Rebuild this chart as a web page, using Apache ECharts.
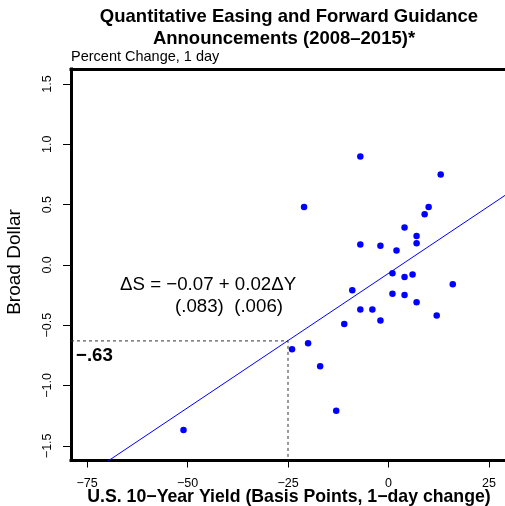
<!DOCTYPE html>
<html>
<head>
<meta charset="utf-8">
<script src="https://cdn.jsdelivr.net/npm/echarts@6/dist/echarts.min.js"></script>
<style>
  html, body { margin: 0; padding: 0; background: #fff; }
  #chart { width: 505px; height: 506px; }
</style>
</head>
<body>
<div id="chart"></div>
<script>
// ---- Data ----
var yieldChange = [-7, 13, -21, 10, 9, 4, 7, 7, -7, -2, 2, 1, 4, 6, 16, -9, 1, 4, 7, -7, -4, 12, -2, -11, -24, -20, -17, -13, -51];
var dollarChange = [0.90, 0.75, 0.48, 0.48, 0.42, 0.31, 0.24, 0.18, 0.17, 0.16, 0.12, -0.07, -0.10, -0.08, -0.16, -0.21, -0.24, -0.25, -0.31, -0.37, -0.37, -0.42, -0.46, -0.49, -0.70, -0.65, -0.84, -1.21, -1.37];
var xTicks = [-75, -50, -25, 0, 25];
var yTicks = [-1.5, -1.0, -0.5, 0.0, 0.5, 1.0, 1.5];
var fitIntercept = -0.07;
var fitSlope = 0.0223;
var markX = -25;
var markY = -0.63;
var xRange = [-79, 29];
var yRange = [-1.622, 1.625];

var MINUS = '\u2212';
function fmt(v, d) { var s = d == null ? String(v) : v.toFixed(d); return s.replace('-', MINUS); }

var points = yieldChange.map(function (x, i) { return [x, dollarChange[i]]; });
var fitLine = [
  [xRange[0], fitIntercept + fitSlope * xRange[0]],
  [xRange[1], fitIntercept + fitSlope * xRange[1]]
];
var guide = [[xRange[0], markY], [markX, markY], [markX, yRange[0]]];

var FONT = 'Liberation Sans, Arial, Helvetica, sans-serif';
var frameLine = { show: true, onZero: false, lineStyle: { color: '#000', width: 3, cap: 'square' } };
var chart = echarts.init(document.getElementById('chart'), null, { renderer: 'canvas' });
chart.setOption({
  animation: false,
  backgroundColor: '#ffffff',
  grid: {
    left: 71, top: 69, width: 436, height: 391.5,
    show: false, containLabel: false
  },
  xAxis: [{
    type: 'value', min: xRange[0], max: xRange[1], position: 'bottom',
    axisLine: frameLine,
    splitLine: { show: false },
    axisTick: { show: true, length: 7, customValues: xTicks, lineStyle: { color: '#000', width: 1 } },
    axisLabel: {
      customValues: xTicks, margin: 17, fontSize: 12.5, color: '#000', fontFamily: FONT,
      formatter: function (v) { return fmt(v); }
    }
  }, {
    type: 'value', min: xRange[0], max: xRange[1], position: 'top',
    axisLine: frameLine,
    splitLine: { show: false }, axisTick: { show: false }, axisLabel: { show: false }
  }],
  yAxis: {
    type: 'value', min: yRange[0], max: yRange[1],
    axisLine: frameLine,
    splitLine: { show: false },
    axisTick: { show: true, length: 8, customValues: yTicks, lineStyle: { color: '#000', width: 1 } },
    axisLabel: {
      customValues: yTicks, rotate: 90, margin: 17, fontSize: 12.5, color: '#000', fontFamily: FONT,
      formatter: function (v) { return fmt(v, 1); }
    }
  },
  series: [
    {
      type: 'line', data: guide, symbol: 'none', silent: true, clip: true,
      lineStyle: { color: '#333', width: 1, type: [3, 3] }
    },
    {
      type: 'line', data: fitLine, symbol: 'none', silent: true, clip: true,
      lineStyle: { color: '#0000ff', width: 1 }
    },
    {
      type: 'scatter', data: points, symbol: 'circle', symbolSize: 6.5,
      itemStyle: { color: '#0000ff', opacity: 1 }
    }
  ],
  graphic: [
    { type: 'text', x: 289, y: 17, style: { text: 'Quantitative Easing and Forward Guidance', font: 'bold 18.5px ' + FONT, fill: '#000', align: 'center', verticalAlign: 'middle' } },
    { type: 'text', x: 284, y: 39, style: { text: 'Announcements (2008\u20132015)*', font: 'bold 18.5px ' + FONT, fill: '#000', align: 'center', verticalAlign: 'middle' } },
    { type: 'text', x: 71, y: 57, style: { text: 'Percent Change, 1 day', font: '14.5px ' + FONT, fill: '#000', align: 'left', verticalAlign: 'middle' } },
    { type: 'text', x: 15, y: 262, rotation: Math.PI / 2, style: { text: 'Broad Dollar', font: '19px ' + FONT, fill: '#000', align: 'center', verticalAlign: 'middle' } },
    { type: 'text', x: 289, y: 497, style: { text: 'U.S. 10' + MINUS + 'Year Yield (Basis Points, 1' + MINUS + 'day change)', font: 'bold 17.7px ' + FONT, fill: '#000', align: 'center', verticalAlign: 'middle' } },
    { type: 'text', x: 120, y: 285, style: { text: '\u0394S = ' + MINUS + '0.07 + 0.02\u0394Y', font: '18.7px ' + FONT, fill: '#000', align: 'left', verticalAlign: 'middle' } },
    { type: 'text', x: 175, y: 306.5, style: { text: '(.083)  (.006)', font: '18.7px ' + FONT, fill: '#000', align: 'left', verticalAlign: 'middle' } },
    { type: 'text', x: 76, y: 356, style: { text: MINUS + '.63', font: 'bold 18.7px ' + FONT, fill: '#000', align: 'left', verticalAlign: 'middle' } }
  ]
});
</script>
</body>
</html>
